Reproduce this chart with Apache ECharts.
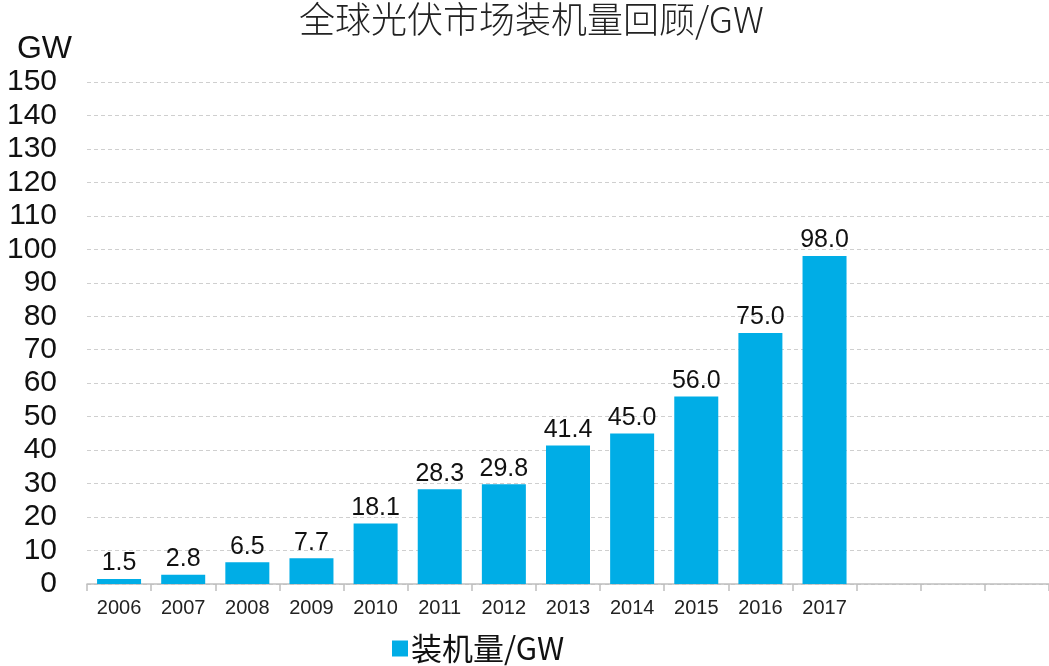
<!DOCTYPE html>
<html>
<head>
<meta charset="utf-8">
<script src="https://cdn.jsdelivr.net/npm/echarts@6/dist/echarts.min.js"></script>
<style>
  html, body { margin: 0; padding: 0; background: #fff; }
  #chart { width: 1049px; height: 666px; }
</style>
</head>
<body>
<div id="chart"></div>
<script>
  // 年份（后面三个空类目保留原图的空白位置）
  var years = ['2006', '2007', '2008', '2009', '2010', '2011', '2012', '2013', '2014', '2015', '2016', '2017', '', '', ''];
  // 装机量 GW
  var installed = [1.5, 2.8, 6.5, 7.7, 18.1, 28.3, 29.8, 41.4, 45.0, 56.0, 75.0, 98.0, null, null, null];
  var seriesName = '装机量/GW';

  var myChart = echarts.init(document.getElementById('chart'));
  var option = {
    animation: false,
    title: {
      text: '全球光伏市场装机量回顾/GW',
      left: 299,
      top: 1,
      padding: 0,
      textStyle: {
        fontFamily: '"Noto Sans CJK SC", sans-serif',
        fontSize: 36,
        fontWeight: 300,
        color: '#222'
      }
    },
    legend: {
      left: 392,
      top: 633,
      itemWidth: 16,
      itemHeight: 16,
      itemGap: 10,
      padding: 0,
      textStyle: {
        fontFamily: '"Noto Sans CJK SC", "Liberation Sans", sans-serif',
        fontSize: 31,
        color: '#111',
        padding: [0, 0, 0, -2]
      },
      data: [{ name: seriesName, icon: 'rect' }]
    },
    grid: {
      left: 87,
      top: 82,
      width: 965,
      height: 502
    },
    xAxis: {
      type: 'category',
      data: years,
      axisLine: { show: true, lineStyle: { color: '#bfbfbf', width: 1.5 } },
      axisTick: { show: true, length: 7, lineStyle: { color: '#bfbfbf', width: 1.5 } },
      axisLabel: {
        fontFamily: '"Liberation Sans", Arial, sans-serif',
        fontSize: 20,
        color: '#222',
        margin: 14
      },
      splitLine: { show: false }
    },
    yAxis: {
      type: 'value',
      min: 0,
      max: 150,
      interval: 10,
      name: 'GW',
      nameLocation: 'end',
      nameGap: 33,
      nameTextStyle: {
        fontFamily: '"Liberation Sans", Arial, sans-serif',
        fontSize: 32,
        color: '#111',
        align: 'right',
        verticalAlign: 'middle',
        padding: [0, 15, 0, 0]
      },
      axisLine: { show: false },
      axisTick: { show: false },
      axisLabel: {
        fontFamily: '"Liberation Sans", Arial, sans-serif',
        fontSize: 30,
        color: '#111',
        margin: 30
      },
      splitLine: {
        show: true,
        lineStyle: { color: '#cfcfcf', type: [4, 3], width: 1 }
      }
    },
    series: [{
      name: seriesName,
      type: 'bar',
      data: installed,
      barWidth: 44,
      itemStyle: { color: '#00ADE6' },
      label: {
        show: true,
        position: 'top',
        distance: 3,
        fontFamily: '"Liberation Sans", Arial, sans-serif',
        fontSize: 25,
        color: '#111',
        formatter: function (p) {
          return p.value == null ? '' : Number(p.value).toFixed(1);
        }
      }
    }]
  };
  myChart.setOption(option);
</script>
</body>
</html>
